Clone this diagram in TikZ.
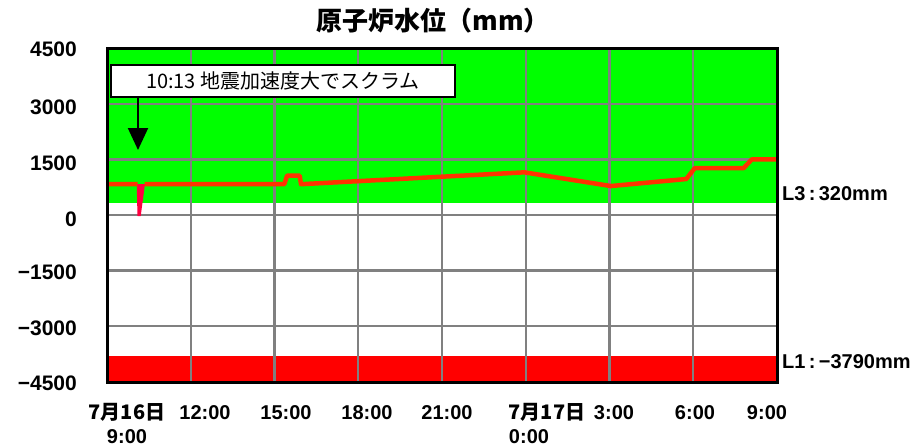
\documentclass[tikz,border=0pt]{standalone}
\usepackage{fontspec}
\setmainfont{Liberation Sans}
\newfontfamily\cjk{Noto Sans CJK JP}
\usetikzlibrary{arrows.meta}
\definecolor{safegreen}{RGB}{0,255,0}
\definecolor{levelline}{RGB}{255,51,0}
\definecolor{dipline}{RGB}{255,0,64}

\begin{document}
\begin{tikzpicture}[x=1pt,y=-1pt,
  gridline/.style={line width=2.2pt,black!50},
  ylab/.style={anchor=east,inner sep=0pt,font=\bfseries\fontsize{21}{21}\selectfont},
  xlab/.style={inner sep=0pt,font=\bfseries\fontsize{20}{20}\selectfont},
  datelab/.style={inner sep=0pt,font=\cjk\bfseries\fontsize{20}{20}\selectfont},
  limitlab/.style={anchor=west,inner sep=0pt,font=\bfseries\fontsize{20}{20}\selectfont}]
  \useasboundingbox (0,0) rectangle (918,447);

  \fill[safegreen] (107,48) rectangle (777,203);
  \fill[red] (107,356) rectangle (777,382);
  \foreach \gx in {191,274.5,358,442,526,609.5,693}
    \draw[gridline] (\gx,48) -- (\gx,382);
  \foreach \gy in {104,159.5,215,270.5,326}
    \draw[gridline] (107,\gy) -- (777,\gy);

  \fill[dipline] (136.7,184) -- (145,184) -- (140.7,216) -- (137.5,216) -- cycle;
  \begin{scope}[xshift=107pt,yshift=-215pt,x=27.917pt,y=0.03711pt]
    \draw[levelline,line width=4.5pt,line join=round]
      (0,830) -- (1.1,830) (1.35,830) -- (6.35,830) -- (6.45,1060) -- (6.9,1060)
      -- (6.95,830) -- (14.95,1150) -- (18.05,780) -- (20.75,970) -- (21.05,1260)
      -- (22.8,1260) -- (23.1,1500) -- (24,1500);
  \end{scope}

  \draw[line width=3pt] (107,48) rectangle (777,382);

  \node[font=\cjk\bfseries\fontsize{26}{26}\selectfont] (title) at (433,21) {原子炉水位（mm）};

  \node[draw,line width=2pt,fill=white,minimum width=344pt,minimum height=32pt,inner sep=0pt,
    font=\cjk\fontsize{20}{20}\selectfont] (scram) at (283,81) {10:13 地震加速度大でスクラム};
  \coordinate (scramtip) at (138,150);
  \draw[line width=2pt,-{Triangle[width=20pt,length=22pt]}] (scram.south -| scramtip) -- (scramtip);

  \foreach \val/\py [count=\i] in {4500/49,3000/107,1500/163,0/219,−1500/272,−3000/328,−4500/383}
    \node[ylab] (ytick\i) at (77,\py) {\val};

  \foreach \lab/\px [count=\i] in {12:00/205,15:00/286,18:00/367,21:00/447,3:00/614,6:00/695,9:00/767}
    \node[xlab] (xtick\i) at (\px,413) {\lab};
  \node[datelab] (day1) at (127,412) {7月16日};
  \node[xlab] (day1time) at (127,437) {9:00};
  \node[datelab] (day2) at (547,412) {7月17日};
  \node[xlab] (day2time) at (529,437) {0:00};

  \node[limitlab] (lthree) at (782,194) {L3\,:\,320mm};
  \node[limitlab] (lone) at (782,362) {L1\,:\,−3790mm};
\end{tikzpicture}
\end{document}
